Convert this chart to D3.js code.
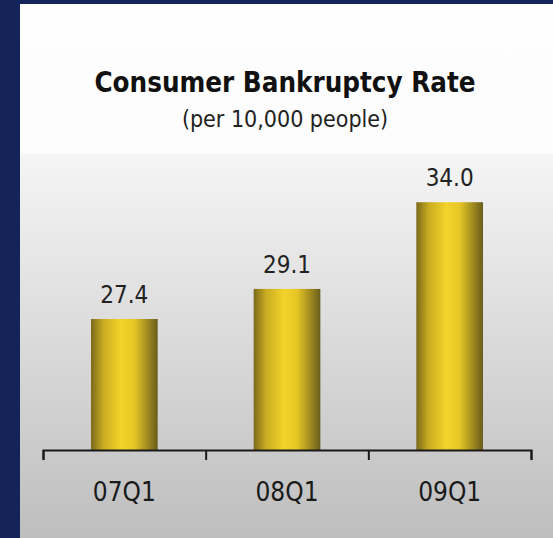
<!DOCTYPE html>
<html>
<head>
<meta charset="utf-8">
<script src="https://cdn.jsdelivr.net/npm/d3@7"></script>
<style>
  html, body { margin: 0; padding: 0; background: #14245b; }
  svg { display: block; }
</style>
</head>
<body>
<div id="chart"></div>
<script>
const categories = ['07Q1', '08Q1', '09Q1']
const values = [27.4, 29.1, 34.0]
const valueLabels = ['27.4', '29.1', '34.0']
const title = 'Consumer Bankruptcy Rate'
const subtitle = '(per 10,000 people)'

const W = 553, H = 538
const fontFam = '"DejaVu Sans Condensed", "DejaVu Sans", sans-serif'

const svg = d3.select('#chart').append('svg')
  .attr('width', W).attr('height', H)

const defs = svg.append('defs')

// panel background gradient
const bg = defs.append('linearGradient').attr('id', 'bg')
  .attr('x1', 0).attr('y1', 0).attr('x2', 0).attr('y2', 1)
bg.append('stop').attr('offset', '0%').attr('stop-color', '#fefefe')
bg.append('stop').attr('offset', '27.9%').attr('stop-color', '#fcfcfc')
bg.append('stop').attr('offset', '28.1%').attr('stop-color', '#f5f5f5')
bg.append('stop').attr('offset', '100%').attr('stop-color', '#bebebe')

// cylinder look for the bars
const barGrad = defs.append('linearGradient').attr('id', 'bar')
  .attr('x1', 0).attr('y1', 0).attr('x2', 1).attr('y2', 0)
barGrad.append('stop').attr('offset', '0%').attr('stop-color', '#7a6a1c')
barGrad.append('stop').attr('offset', '18%').attr('stop-color', '#c8aa22')
barGrad.append('stop').attr('offset', '45%').attr('stop-color', '#f3d42a')
barGrad.append('stop').attr('offset', '65%').attr('stop-color', '#e6c626')
barGrad.append('stop').attr('offset', '85%').attr('stop-color', '#a08a20')
barGrad.append('stop').attr('offset', '100%').attr('stop-color', '#6a5c1c')

svg.append('rect')
  .attr('x', 20).attr('y', 4)
  .attr('width', W - 20).attr('height', H - 4)
  .attr('fill', 'url(#bg)')

// titles
svg.append('text')
  .attr('x', 285).attr('y', 92)
  .attr('text-anchor', 'middle')
  .attr('font-family', fontFam)
  .attr('font-weight', 'bold')
  .attr('font-size', 27.5)
  .attr('fill', '#111')
  .text(title)

svg.append('text')
  .attr('x', 285).attr('y', 127)
  .attr('text-anchor', 'middle')
  .attr('font-family', fontFam)
  .attr('font-size', 23)
  .attr('fill', '#222')
  .text(subtitle)

// scales
const x = d3.scaleBand()
  .domain(categories)
  .range([43, 531])
  .padding(0)

const y = d3.scaleLinear()
  .domain([20, 40])
  .range([450, 96])

const barW = x.bandwidth() * 0.41

// bars
svg.selectAll('.bar').data(values).enter()
  .append('rect').attr('class', 'bar')
  .attr('x', (d, i) => x(categories[i]) + x.bandwidth() / 2 - barW / 2)
  .attr('y', d => y(d))
  .attr('width', barW)
  .attr('height', d => y(20) - y(d))
  .attr('fill', 'url(#bar)')

// value labels
svg.selectAll('.val').data(values).enter()
  .append('text').attr('class', 'val')
  .attr('x', (d, i) => x(categories[i]) + x.bandwidth() / 2)
  .attr('y', d => y(d) - 16)
  .attr('text-anchor', 'middle')
  .attr('font-family', fontFam)
  .attr('font-size', 24)
  .attr('fill', '#222')
  .text((d, i) => valueLabels[i])

// axis with ticks on category boundaries
const edges = d3.scaleLinear().domain([0, categories.length]).range(x.range())
const axis = svg.append('g')
  .attr('transform', 'translate(0,' + y(20) + ')')
  .call(d3.axisBottom(edges)
    .tickValues(d3.range(categories.length + 1))
    .tickFormat('')
    .tickSize(10))
axis.selectAll('path, line').attr('stroke', '#1a1a1a').attr('stroke-width', 2)

// category labels
svg.selectAll('.cat').data(categories).enter()
  .append('text').attr('class', 'cat')
  .attr('x', d => x(d) + x.bandwidth() / 2)
  .attr('y', 501)
  .attr('text-anchor', 'middle')
  .attr('font-family', fontFam)
  .attr('font-size', 26)
  .attr('fill', '#1a1a1a')
  .text(d => d)
</script>
</body>
</html>
